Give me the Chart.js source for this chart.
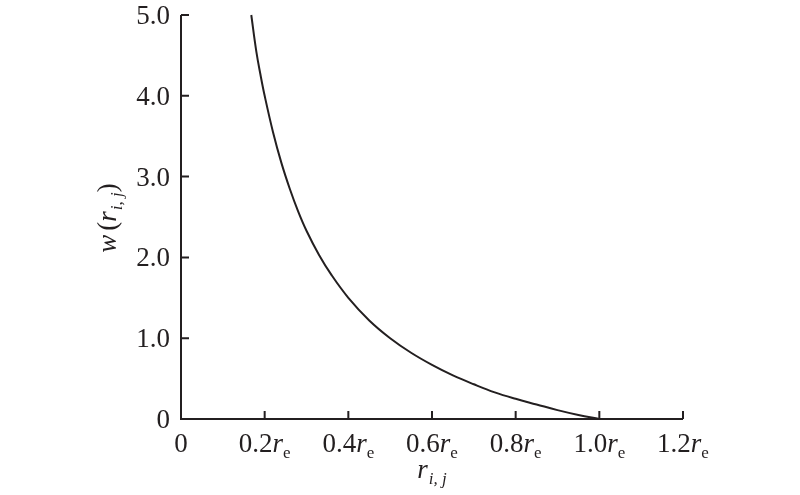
<!DOCTYPE html>
<html lang="en">

<head>
  <meta charset="utf-8">
  <title>w(r) curve</title>
  <script src="https://cdn.jsdelivr.net/npm/chart.js@4.4.0/dist/chart.umd.min.js"></script>
  <style>
    body { margin: 0; background: #fff; }
    #wrap { width: 800px; height: 495px; }
  </style>
</head>

<body>
  <div id="wrap">
    <canvas id="myChart" width="800" height="495"></canvas>
  </div>

  <script>
    // values
    const rVals = [0.168, 0.18, 0.19, 0.20, 0.22, 0.24, 0.26, 0.28, 0.30, 0.33, 0.36, 0.40,
                   0.45, 0.50, 0.55, 0.60, 0.65, 0.70, 0.75, 0.80, 0.85, 0.90, 0.95, 1.0];
    const wVals = [5.0, 4.55, 4.26, 4.0, 3.55, 3.17, 2.85, 2.57, 2.33, 2.03, 1.78, 1.5,
                   1.22, 1.0, 0.82, 0.67, 0.54, 0.43, 0.33, 0.25, 0.18, 0.11, 0.05, 0.0];
    const xTicks = [0, 0.2, 0.4, 0.6, 0.8, 1.0, 1.2];
    const xTickText = ['0', '0.2', '0.4', '0.6', '0.8', '1.0', '1.2'];
    const yTicks = [0, 1, 2, 3, 4, 5];
    const yTickText = ['0', '1.0', '2.0', '3.0', '4.0', '5.0'];

    const ink = '#231f20';
    const fam = '"Liberation Serif", "Times New Roman", serif';
    const fs = 27;

    const points = rVals.map((r, i) => ({ x: r, y: wVals[i] }));

    function fontFor(p) {
      return (p.it ? 'italic ' : '') + (p.sub ? Math.round(fs * 0.62) : fs) + 'px ' + fam;
    }

    // draws a row of text pieces, some italic, some subscript
    function richText(ctx, parts, x, y, align) {
      let total = 0;
      parts.forEach(p => {
        ctx.font = fontFor(p);
        p.w = ctx.measureText(p.t).width;
        total += p.w + (p.gap || 0);
      });
      let cx = x;
      if (align === 'center') cx = x - total / 2;
      if (align === 'right') cx = x - total;
      parts.forEach(p => {
        ctx.font = fontFor(p);
        ctx.fillText(p.t, cx, p.sub ? y + 6 : y);
        cx += p.w + (p.gap || 0);
      });
    }

    const axesPlugin = {
      id: 'axesPlugin',
      afterDraw(chart) {
        const ctx = chart.ctx;
        const xs = chart.scales.x, ys = chart.scales.y;
        const x0 = xs.getPixelForValue(0), x1 = xs.getPixelForValue(1.2);
        const y0 = ys.getPixelForValue(0), y1 = ys.getPixelForValue(5);
        ctx.save();
        ctx.strokeStyle = ink;
        ctx.fillStyle = ink;
        ctx.lineWidth = 2;
        ctx.beginPath();
        ctx.moveTo(x0, y1); ctx.lineTo(x0, y0); ctx.lineTo(x1, y0);
        // inward tick marks
        yTicks.forEach(v => {
          if (v === 0) return;
          const py = ys.getPixelForValue(v);
          ctx.moveTo(x0, py); ctx.lineTo(x0 + 8, py);
        });
        xTicks.forEach(v => {
          if (v === 0) return;
          const px = xs.getPixelForValue(v);
          ctx.moveTo(px, y0); ctx.lineTo(px, y0 - 8);
        });
        ctx.stroke();

        ctx.textBaseline = 'alphabetic';
        ctx.textAlign = 'left';

        // y tick labels
        yTicks.forEach((v, i) => {
          const py = ys.getPixelForValue(v);
          richText(ctx, [{ t: yTickText[i] }], x0 - 11, py + 9, 'right');
        });

        // x tick labels
        xTicks.forEach((v, i) => {
          const px = xs.getPixelForValue(v);
          if (v === 0) {
            richText(ctx, [{ t: '0' }], px, y0 + 33, 'center');
          } else {
            richText(ctx, [{ t: xTickText[i] }, { t: 'r', it: true }, { t: 'e', sub: true }], px, y0 + 33, 'center');
          }
        });

        // x title
        richText(ctx, [{ t: 'r', it: true, gap: 1 }, { t: 'i, j', it: true, sub: true }],
          (x0 + x1) / 2, y0 + 59, 'center');

        // y title, rotated
        ctx.translate(107, 218);
        ctx.rotate(-Math.PI / 2);
        richText(ctx, [{ t: 'w', it: true, gap: 4 }, { t: '(' }, { t: 'r', it: true, gap: 1 },
          { t: 'i, j', it: true, sub: true }, { t: ')' }], 0, 9, 'center');
        ctx.restore();
      }
    };

    const ctx = document.getElementById('myChart').getContext('2d');
    const myChart = new Chart(ctx, {
      type: 'scatter',
      data: {
        datasets: [{
          data: points,
          showLine: true,
          borderColor: ink,
          borderWidth: 2,
          pointRadius: 0,
          tension: 0.4,
          clip: false
        }]
      },
      options: {
        responsive: false,
        animation: false,
        layout: { padding: { left: 0, right: 117, top: 15, bottom: 0 } },
        plugins: { legend: { display: false }, tooltip: { enabled: false } },
        scales: {
          x: {
            type: 'linear',
            min: 0,
            max: 1.2,
            grid: { display: false, drawTicks: false },
            border: { display: false },
            ticks: { display: false },
            afterFit(scale) { scale.height = 76; }
          },
          y: {
            min: 0,
            max: 5,
            grid: { display: false, drawTicks: false },
            border: { display: false },
            ticks: { display: false },
            afterFit(scale) { scale.width = 181; }
          }
        }
      },
      plugins: [axesPlugin]
    });
  </script>

</body>

</html>
